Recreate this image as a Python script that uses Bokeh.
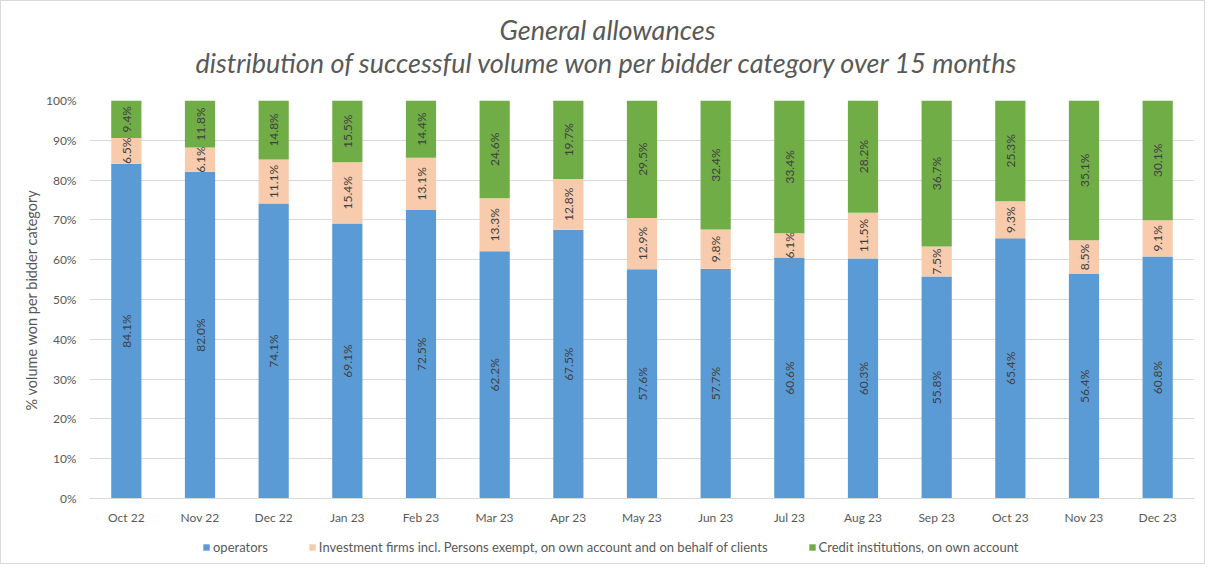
import numpy as np
from bokeh.plotting import figure
from bokeh.models import (ColumnDataSource, Legend, LegendItem, Label, Title, Range1d,
                          NumeralTickFormatter, FixedTicker)
from bokeh.core.properties import value
from bokeh.embed import file_html
from bokeh.resources import INLINE

months = ["Oct 22", "Nov 22", "Dec 22", "Jan 23", "Feb 23", "Mar 23", "Apr 23",
          "May 23", "Jun 23", "Jul 23", "Aug 23", "Sep 23", "Oct 23", "Nov 23", "Dec 23"]
operators = [84.1, 82.0, 74.1, 69.1, 72.5, 62.2, 67.5, 57.6, 57.7, 60.6, 60.3, 55.8, 65.4, 56.4, 60.8]
investment = [6.5, 6.1, 11.1, 15.4, 13.1, 13.3, 12.8, 12.9, 9.8, 6.1, 11.5, 7.5, 9.3, 8.5, 9.1]
credit = [9.4, 11.8, 14.8, 15.5, 14.4, 24.6, 19.7, 29.5, 32.4, 33.4, 28.2, 36.7, 25.3, 35.1, 30.1]

series_names = ["operators",
                "Investment firms incl. Persons exempt, on own account and on behalf of clients",
                "Credit institutions, on own account"]
colors = ["#5B9BD5", "#F8CBAD", "#70AD47"]
y_ticks = [0.0, 0.1, 0.2, 0.3, 0.4, 0.5, 0.6, 0.7, 0.8, 0.9, 1.0]
title_lines = ["General allowances",
               "distribution of successful volume won per bidder category over 15 months"]
y_title = "% volume won per bidder category"

FONT = "Lato"
GREY = "#595959"

vals = np.array([operators, investment, credit], dtype=float)
tot = vals.sum(axis=0)
frac = vals / tot
cum = np.vstack([np.zeros(len(months)), np.cumsum(frac, axis=0)])

# frame reaches the bottom of the canvas so the legend (drawn in the frame) is not clipped;
# the lower end of the y range leaves room under 0% for month labels and legend
p = figure(x_range=months, y_range=Range1d(-0.1683, 1.0), width=1205, height=564,
           output_backend="svg", toolbar_location=None,
           min_border_left=88, min_border_right=12, min_border_top=99, min_border_bottom=0,
           background_fill_color="white", border_fill_color="white")
p.outline_line_color = None
p.styles = {"border": "1px solid #D9D9D9"}

renderers = []
for i in range(3):
    src = ColumnDataSource(dict(
        x=months, bottom=cum[i], top=cum[i + 1],
        mid=(cum[i] + cum[i + 1]) / 2,
        lab=["%.1f%%" % v for v in vals[i]]))
    r = p.vbar(x="x", bottom="bottom", top="top", width=0.41, source=src,
               fill_color=colors[i], line_color=None)
    renderers.append(r)
    p.text(x="x", y="mid", text="lab", source=src, angle=np.pi / 2,
           text_align="center", text_baseline="middle",
           text_font=value(FONT), text_font_size="12px", text_color="#404040")

# y axis
p.yaxis.ticker = FixedTicker(ticks=y_ticks)
p.yaxis.formatter = NumeralTickFormatter(format="0%")
p.yaxis.axis_line_color = None
p.yaxis.major_tick_line_color = None
p.yaxis.minor_tick_line_color = None
p.yaxis.major_tick_out = 0
p.yaxis.minor_tick_out = 0
p.yaxis.major_label_standoff = 13
p.yaxis.major_label_text_font = FONT
p.yaxis.major_label_text_font_size = "12px"
p.yaxis.major_label_text_color = GREY

# x axis drawn at the 0% line
p.xaxis.fixed_location = 0
p.xaxis.axis_line_color = "#D9D9D9"
p.xaxis.major_tick_line_color = None
p.xaxis.minor_tick_line_color = None
p.xaxis.major_tick_out = 0
p.xaxis.minor_tick_out = 0
p.xaxis.major_label_standoff = 11
p.xaxis.major_label_text_font = FONT
p.xaxis.major_label_text_font_size = "12px"
p.xaxis.major_label_text_color = GREY

p.xgrid.grid_line_color = None
p.ygrid.grid_line_color = "#D9D9D9"
p.ygrid.grid_line_width = 1

# y axis title, placed alongside the 0-100% span
p.add_layout(Title(text=y_title, align="left", offset=155, standoff=5,
                   vertical_align="middle", text_font=FONT, text_font_style="normal",
                   text_font_size="14.5px", text_color=GREY), "left")

# title lines as labels in the top panel
for txt, yy in [(title_lines[1], 38), (title_lines[0], 38)]:
    p.add_layout(Label(x=518, y=yy, x_units="screen", y_units="screen", text=txt,
                       text_align="center", text_baseline="alphabetic",
                       text_font=FONT, text_font_style="italic",
                       text_font_size="27px", text_color=GREY), "above")

# legend under the month labels
lg = Legend(items=[LegendItem(label=n, renderers=[r]) for n, r in zip(series_names, renderers)],
            location=(113, 10), orientation="horizontal",
            glyph_width=8, glyph_height=8, label_standoff=3,
            padding=0, margin=0, spacing=40,
            border_line_color=None, background_fill_alpha=0,
            label_text_font=FONT, label_text_font_size="13px",
            label_text_color=GREY, label_height=14)
p.add_layout(lg, "center")

open("out.html", "w").write(file_html(p, INLINE))
